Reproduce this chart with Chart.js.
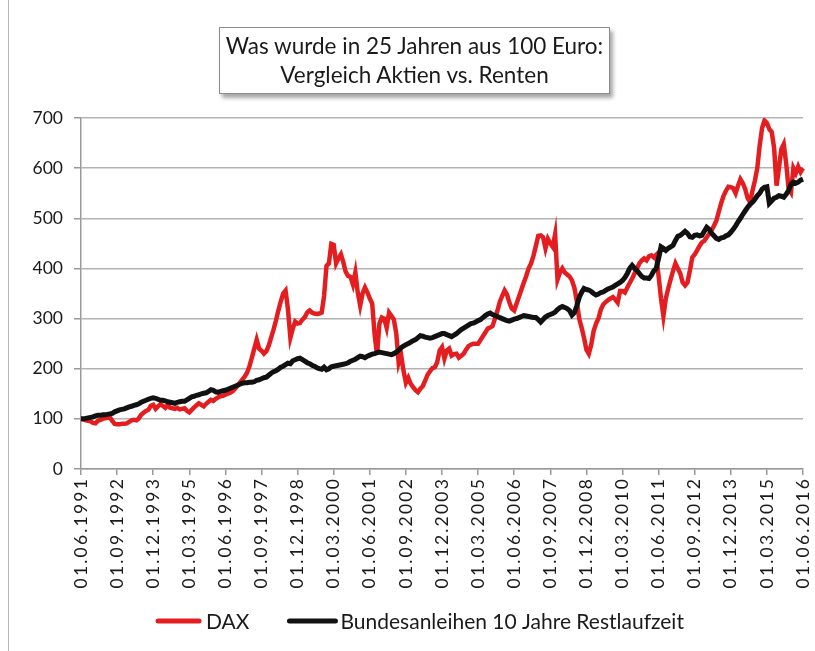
<!DOCTYPE html>
<html>
<head>
<meta charset="utf-8">
<script src="https://cdn.jsdelivr.net/npm/chart.js@4/dist/chart.umd.min.js"></script>
<style>
  html, body { margin: 0; padding: 0; background: #fff; }
  #wrap { position: relative; width: 815px; height: 651px; overflow: hidden; }
  #frame { position: absolute; left: 8px; top: 0; width: 1px; height: 651px; background: #b5b5b5; }
  #title {
    position: absolute; left: 219px; top: 27px; width: 391px; height: 67px;
    border: 1px solid #8c8c8c; background: #fff;
    box-shadow: 3px 4px 4px rgba(0,0,0,0.35);
    font-family: Lato, "Open Sans", sans-serif; font-size: 22.5px; line-height: 29px;
    color: #1a1a1a; text-align: center; padding-top: 3px; box-sizing: border-box;
    z-index: 2;
  }
  canvas { position: absolute; left: 0; top: 0; }
</style>
</head>
<body>
<div id="wrap">
  <div id="frame"></div>
  <canvas id="c" width="815" height="651"></canvas>
  <div id="title">Was wurde in 25 Jahren aus 100 Euro:<br>Vergleich Aktien vs. Renten</div>
</div>
<script>
// Tick labels shown on the x axis (every 15 months)
const xTickLabels = ['01.06.1991','01.09.1992','01.12.1993','01.03.1995','01.06.1996','01.09.1997','01.12.1998','01.03.2000','01.06.2001','01.09.2002','01.12.2003','01.03.2005','01.06.2006','01.09.2007','01.12.2008','01.03.2010','01.06.2011','01.09.2012','01.12.2013','01.03.2015','01.06.2016'];

// Monthly categories 01.06.1991 ... 01.06.2016
const categories = [];
for (let i = 0; i <= 300; i++) {
  const mo = (5 + i) % 12 + 1;
  const yr = 1991 + Math.floor((5 + i) / 12);
  categories.push('01.' + String(mo).padStart(2, '0') + '.' + yr);
}

const seriesNames = ['DAX', 'Bundesanleihen 10 Jahre Restlaufzeit'];

const dax = [
  100,99,97,96,95,92,91,96,98,100,101,102,
  103,96,90,89,89,90,90,91,94,97,98,97,
  101,108,112,116,118,126,128,120,125,129,126,122,
  128,122,121,120,122,119,120,121,116,113,118,123,
  127,131,128,125,130,134,138,136,140,143,145,146,
  148,150,152,155,160,166,172,178,184,192,205,222,
  240,258,240,236,230,235,246,262,278,296,316,334,
  350,356,318,262,280,294,290,291,298,303,312,316,
  312,310,309,310,312,345,405,410,449,447,410,420,
  428,412,393,385,383,368,392,352,326,350,362,352,
  340,330,268,228,290,302,300,282,312,305,298,270,
  212,228,196,172,182,170,163,157,153,160,165,176,
  188,195,201,203,213,236,243,220,236,240,226,229,
  230,222,226,230,238,245,248,250,250,250,257,265,
  272,280,282,285,300,315,333,345,356,348,332,320,
  316,330,344,358,372,385,400,410,425,445,465,466,
  462,440,459,450,443,468,378,392,400,392,388,384,
  376,362,335,300,282,262,238,230,248,275,290,300,
  318,328,333,337,340,343,338,332,355,355,352,362,
  371,380,390,400,410,416,420,416,424,426,422,427,
  385,340,305,340,360,378,395,410,400,390,372,366,
  372,396,422,428,436,445,452,455,462,469,476,485,
  495,513,530,545,555,563,562,560,550,565,578,570,
  558,540,532,555,575,600,645,680,695,690,678,672,
  640,565,600,638,648,610,560,552,600,590,603,592,
  600
];

const bund = [
  100,100,101,102,103,104,106,107,107,108,108,109,
  110,111,114,116,118,119,120,122,124,125,127,128,
  130,133,135,137,139,141,142,141,139,137,137,136,
  134,133,132,131,133,134,135,135,138,141,144,145,
  147,148,150,151,152,155,158,157,154,153,155,156,
  157,159,161,163,165,167,169,171,172,172,173,173,
  174,177,178,180,182,183,187,191,194,196,199,203,
  205,208,211,210,216,218,220,221,218,215,212,210,
  207,205,202,200,199,203,198,200,204,205,206,207,
  208,209,210,212,215,217,219,222,225,224,222,225,
  227,229,230,232,233,232,231,230,229,228,230,233,
  237,242,245,248,250,253,256,258,262,266,265,263,
  262,261,262,264,266,268,270,270,268,266,264,267,
  270,274,278,281,284,287,290,291,293,296,298,302,
  306,309,311,308,306,304,302,300,298,296,295,297,
  299,300,302,304,306,305,304,303,302,302,298,293,
  298,303,306,308,310,313,318,322,324,322,320,316,
  307,312,325,342,352,360,358,357,354,350,347,349,
  352,353,356,359,361,363,366,369,372,376,382,390,
  400,406,400,396,390,384,381,381,380,386,395,400,
  420,443,440,436,440,443,446,456,464,466,470,474,
  470,463,462,466,467,465,466,474,482,478,470,465,
  460,458,461,462,465,467,472,478,485,493,500,508,
  515,522,528,532,538,545,550,558,562,563,530,535,
  540,542,545,544,542,548,555,568,572,570,572,576,
  578
];

const yTicks = [0,100,200,300,400,500,600,700];

const FONT = 'Lato, "Open Sans", sans-serif';
const RED = '#e41e20';
const BLACK = '#111111';
const GRID = '#b3b3b3';

// Letter-spaced x tick labels (as in the rotated Excel labels)
const spacedXLabels = {
  id: 'spacedXLabels',
  beforeDraw(chart) {
    const xs = chart.scales.x;
    if (xs && !xs._spaced) {
      const orig = xs.drawLabels.bind(xs);
      xs.drawLabels = (area) => {
        const ctx = chart.ctx;
        ctx.save();
        if ('letterSpacing' in ctx) ctx.letterSpacing = '2.2px';
        orig(area);
        ctx.restore();
      };
      xs._spaced = true;
    }
  }
};

// Legend drawn below the axis labels
const bottomLegend = {
  id: 'bottomLegend',
  afterDraw(chart) {
    const ctx = chart.ctx;
    const items = [chart.data.datasets[1], chart.data.datasets[0]];
    const sampleW = [45, 50], textGap = [5, 3], itemGap = 38;
    const cy = 621, cx = 420;
    ctx.save();
    ctx.font = '21px ' + FONT;
    const widths = items.map(d => ctx.measureText(d.label).width);
    const total = sampleW[0] + textGap[0] + widths[0] + itemGap + sampleW[1] + textGap[1] + widths[1];
    let x = cx - total / 2;
    items.forEach((d, i) => {
      ctx.strokeStyle = d.borderColor;
      ctx.lineWidth = 5;
      ctx.lineCap = 'round';
      ctx.beginPath();
      ctx.moveTo(x + 2, cy);
      ctx.lineTo(x + sampleW[i] - 2, cy);
      ctx.stroke();
      x += sampleW[i] + textGap[i];
      ctx.fillStyle = '#1a1a1a';
      ctx.textBaseline = 'middle';
      ctx.textAlign = 'left';
      ctx.fillText(d.label, x, cy + 1);
      x += widths[i] + itemGap;
    });
    ctx.restore();
  }
};

new Chart(document.getElementById('c'), {
  type: 'line',
  data: {
    labels: categories,
    datasets: [
      { label: seriesNames[1], data: bund, borderColor: BLACK, backgroundColor: BLACK,
        borderWidth: 5, pointRadius: 0, tension: 0, fill: false },
      { label: seriesNames[0], data: dax, borderColor: RED, backgroundColor: RED,
        borderWidth: 4.5, pointRadius: 0, tension: 0, fill: false }
    ]
  },
  plugins: [spacedXLabels, bottomLegend],
  options: {
    responsive: false,
    animation: false,
    devicePixelRatio: 1,
    layout: { padding: { left: 0, right: 12, top: 118, bottom: 56 } },
    plugins: {
      title: { display: false },
      tooltip: { enabled: false },
      legend: { display: false }
    },
    scales: {
      x: {
        type: 'category',
        offset: false,
        afterBuildTicks: (axis) => {
          axis.ticks = axis.ticks.filter(t => xTickLabels.includes(categories[t.value]));
        },
        afterFit: (axis) => { axis.height = 126; axis.paddingLeft = 0; axis.paddingRight = 0; },
        ticks: {
          autoSkip: false, maxRotation: 90, minRotation: 90,
          font: { family: FONT, size: 17.5 }, color: '#1a1a1a', padding: 2
        },
        grid: { drawOnChartArea: false, drawTicks: true, tickLength: 6, color: '#999', lineWidth: 1.5 },
        border: { color: '#999', width: 1.5 }
      },
      y: {
        min: 0, max: 700,
        afterBuildTicks: (axis) => { axis.ticks = yTicks.map(v => ({ value: v })); },
        afterFit: (axis) => { axis.width = 81; axis.paddingTop = 0; axis.paddingBottom = 0; },
        ticks: { font: { family: FONT, size: 17.5 }, color: '#1a1a1a', padding: 11 },
        grid: { color: GRID, lineWidth: 1.5, tickLength: 7, tickColor: '#999' },
        border: { color: '#999', width: 1.5 }
      }
    }
  }
});
</script>
</body>
</html>
